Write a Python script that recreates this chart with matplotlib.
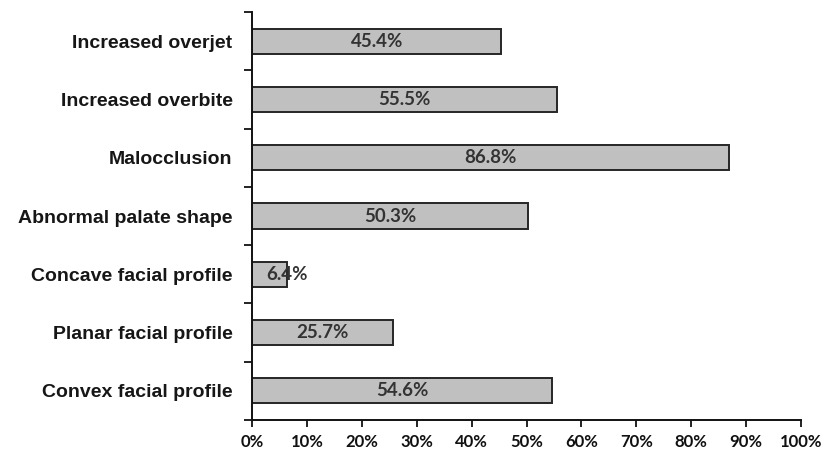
import numpy as np
import matplotlib
matplotlib.use("Agg")
import matplotlib.pyplot as plt
from matplotlib.ticker import FixedLocator, FuncFormatter

# findings, listed top to bottom as drawn
categories = ["Increased overjet", "Increased overbite", "Malocclusion",
              "Abnormal palate shape", "Concave facial profile",
              "Planar facial profile", "Convex facial profile"]
values = [45.4, 55.5, 86.8, 50.3, 6.4, 25.7, 54.6]
xticks = [0, 10, 20, 30, 40, 50, 60, 70, 80, 90, 100]

fig = plt.figure(figsize=(8.25, 4.53), dpi=100)
ax = fig.add_axes([0.3055, 0.0728, 0.6655, 0.9007])

n = len(categories)
ypos = np.arange(n)[::-1] + 0.5
ax.barh(ypos, values, height=0.43, color="#c0c0c0", edgecolor="#262626",
        linewidth=1.4, zorder=2)

for y, v in zip(ypos, values):
    # small bar: label sits on the bar end
    xt = v if v < 10 else v / 2
    ax.text(xt, y, f"{v}%", ha="center", va="center", fontsize=13.5,
            fontweight="bold", color="#333333", family="Lato", zorder=3)

ax.set_xlim(0, 100)
ax.set_ylim(0, n)

ax.xaxis.set_major_locator(FixedLocator(xticks))
ax.xaxis.set_major_formatter(FuncFormatter(lambda x, p: f"{int(x)}%"))
ax.tick_params(axis="x", direction="out", length=5, width=1.3,
               labelsize=12, pad=5, colors="#111111")
for lab in ax.get_xticklabels():
    lab.set_family("Lato")
    lab.set_fontweight("bold")

# boundaries get the tick marks, names sit between them
ax.yaxis.set_major_locator(FixedLocator(np.arange(n + 1)))
ax.yaxis.set_major_formatter(FuncFormatter(lambda y, p: ""))
ax.yaxis.set_minor_locator(FixedLocator(ypos))
ax.set_yticklabels(categories, minor=True)
ax.tick_params(axis="y", which="major", direction="out", length=6, width=1.3,
               colors="#111111")
ax.tick_params(axis="y", which="minor", length=0, pad=14, labelsize=14,
               colors="#161616")
for lab in ax.get_yticklabels(minor=True):
    lab.set_family("Liberation Sans")
    lab.set_fontweight("bold")

for side in ["top", "right"]:
    ax.spines[side].set_visible(False)
for side in ["left", "bottom"]:
    ax.spines[side].set_linewidth(1.4)
    ax.spines[side].set_color("#111111")

fig.savefig("out.png", dpi=100)
